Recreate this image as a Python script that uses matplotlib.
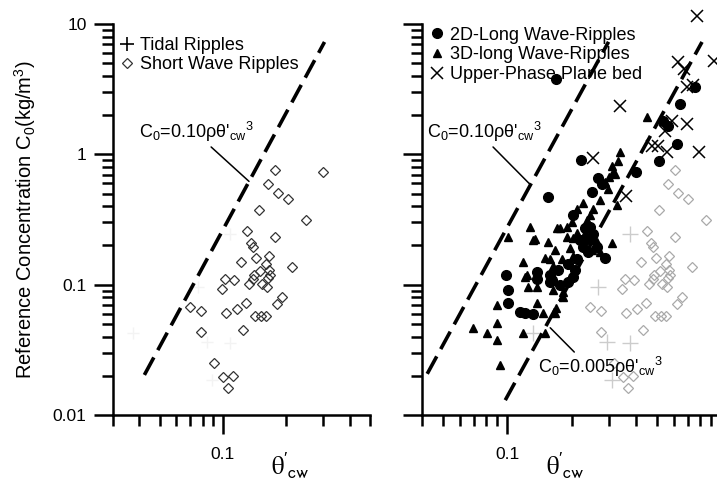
import matplotlib.pyplot as plt
from matplotlib import ticker
from matplotlib.lines import Line2D

plt.rcParams['font.family'] = ['Liberation Sans', 'DejaVu Sans']
plt.rcParams['mathtext.default'] = 'regular'

# ---- left panel: ripple data ----
tidal_theta = [0.108, 0.0761, 0.0374, 0.0840, 0.108, 0.0887]
tidal_c = [0.243, 0.0966, 0.0427, 0.0365, 0.0358, 0.0186]

short_theta = [0.176, 0.298, 0.163, 0.182, 0.203, 0.148, 0.247, 0.130, 0.176, 0.136,
               0.139, 0.165, 0.143, 0.122, 0.160, 0.212, 0.165, 0.150, 0.140, 0.167,
               0.163, 0.113, 0.102, 0.139, 0.133, 0.153, 0.162, 0.099, 0.190, 0.180,
               0.129, 0.070, 0.079, 0.116, 0.103, 0.142, 0.151, 0.160, 0.079, 0.124,
               0.091, 0.100, 0.112, 0.106]
short_c = [0.754, 0.728, 0.588, 0.501, 0.451, 0.371, 0.316, 0.260, 0.234, 0.207,
           0.196, 0.167, 0.161, 0.150, 0.143, 0.137, 0.130, 0.128, 0.119, 0.119,
           0.113, 0.109, 0.111, 0.111, 0.102, 0.102, 0.0966, 0.0931, 0.0809, 0.0715,
           0.0728, 0.0678, 0.0631, 0.0653, 0.0610, 0.0578, 0.0578, 0.0578, 0.0434, 0.0451,
           0.0251, 0.0196, 0.0200, 0.0162]

# ---- right panel: faint background points ----
ghost_short_theta = [0.610, 1.02, 0.565, 0.630, 0.701, 0.513, 0.851, 0.451, 0.610, 0.471,
                     0.481, 0.571, 0.497, 0.423, 0.553, 0.732, 0.571, 0.519, 0.486, 0.578,
                     0.565, 0.392, 0.356, 0.481, 0.461, 0.530, 0.559, 0.345, 0.658, 0.623,
                     0.446, 0.244, 0.275, 0.405, 0.360, 0.492, 0.524, 0.553, 0.275, 0.432,
                     0.316, 0.348, 0.388, 0.368]
ghost_tidal_theta = [0.376, 0.266, 0.132, 0.293, 0.376, 0.310]

# ---- right panel: long wave ripples and plane bed ----
lw2d_theta = [0.169, 0.756, 0.643, 0.536, 0.565, 0.623, 0.513, 0.222, 0.401, 0.266,
              0.278, 0.249, 0.156, 0.203, 0.244, 0.252, 0.237, 0.263, 0.287, 0.0989,
              0.101, 0.101, 0.121, 0.132, 0.138, 0.138, 0.159, 0.162, 0.173, 0.193,
              0.203, 0.193, 0.212, 0.226, 0.239, 0.231, 0.177, 0.115, 0.159, 0.208,
              0.219]
lw2d_c = [3.78, 3.27, 2.43, 1.79, 1.64, 1.19, 0.883, 0.899, 0.728, 0.654,
          0.588, 0.510, 0.467, 0.345, 0.279, 0.243, 0.226, 0.196, 0.161, 0.119,
          0.0915, 0.0728, 0.0609, 0.0598, 0.124, 0.111, 0.119, 0.109, 0.130, 0.143,
          0.115, 0.104, 0.156, 0.196, 0.179, 0.274, 0.100, 0.0620, 0.104, 0.130,
          0.222]

lw3d_theta = [0.451, 0.337, 0.330, 0.310, 0.320, 0.287, 0.296, 0.327, 0.212, 0.226,
              0.237, 0.201, 0.177, 0.191, 0.212, 0.128, 0.101, 0.132, 0.156, 0.168,
              0.151, 0.119, 0.310, 0.272, 0.121, 0.164, 0.183, 0.168, 0.138, 0.0898,
              0.0898, 0.0693, 0.0806, 0.0898, 0.118, 0.151, 0.0927, 0.169, 0.171, 0.191,
              0.203, 0.181, 0.164, 0.197, 0.203, 0.138, 0.125, 0.183, 0.147, 0.159,
              0.124, 0.244, 0.258, 0.272, 0.313, 0.300, 0.252, 0.231, 0.263, 0.249,
              0.135]
lw3d_c = [1.93, 1.04, 0.883, 0.809, 0.702, 0.609, 0.538, 0.412, 0.378, 0.427,
          0.316, 0.300, 0.274, 0.234, 0.251, 0.279, 0.234, 0.222, 0.214, 0.186,
          0.161, 0.148, 0.207, 0.179, 0.115, 0.0915, 0.0809, 0.0609, 0.0728, 0.0702,
          0.0510, 0.0467, 0.0427, 0.0378, 0.0427, 0.0427, 0.0243, 0.0665, 0.274, 0.279,
          0.230, 0.156, 0.138, 0.191, 0.165, 0.0966, 0.0966, 0.0885, 0.0609, 0.156,
          0.119, 0.345, 0.222, 0.445, 0.728, 0.665, 0.378, 0.251, 0.214, 0.186,
          0.226]

plane_theta = [0.773, 0.927, 0.630, 0.671, 0.694, 0.740, 0.337, 0.590, 0.694, 0.547,
               0.476, 0.508, 0.560, 0.789, 0.252, 0.360]
plane_c = [11.5, 5.19, 5.10, 4.51, 3.27, 3.40, 2.34, 1.79, 1.70, 1.50,
           1.15, 1.15, 1.04, 1.05, 0.931, 0.475]

# dashed reference lines (end points)
line_a_left_theta = [0.0423, 0.304]
line_a_left_c = [0.0203, 7.28]
line_a_right_theta = [0.0423, 0.298]
line_a_right_c = [0.0207, 7.3]
line_b_theta = [0.098, 0.815]
line_b_c = [0.0130, 7.28]

label_a = "C$_0$=0.10ρθ'$_{cw}$$^3$"
label_b = "C$_0$=0.005ρθ'$_{cw}$$^3$"

fig = plt.figure(figsize=(7.17, 4.83), dpi=100)
ax1 = fig.add_axes([0.1576, 0.1408, 0.3584, 0.8095])
ax2 = fig.add_axes([0.5886, 0.1408, 0.4170, 0.8095])


def style_axes(ax, xlim):
    ax.set_xscale('log')
    ax.set_yscale('log')
    ax.set_xlim(xlim)
    ax.set_ylim(0.01, 10)
    for s in ['top', 'right']:
        ax.spines[s].set_visible(False)
    for s in ['left', 'bottom']:
        ax.spines[s].set_linewidth(1.8)
    ax.tick_params(which='major', direction='out', length=14, width=1.8, labelsize=12.5)
    ax.tick_params(which='minor', direction='out', length=8, width=1.8)
    ax.tick_params(axis='x', which='major', pad=9)
    ax.tick_params(axis='y', which='major', pad=5)
    ax.xaxis.set_major_formatter(ticker.FormatStrFormatter('%g'))
    ax.yaxis.set_major_formatter(ticker.FormatStrFormatter('%g'))
    ax.xaxis.set_minor_formatter(ticker.NullFormatter())
    ax.yaxis.set_minor_formatter(ticker.NullFormatter())
    ax.set_xlabel(r"$\mathrm{\theta}'_{\mathsf{cw}}$", fontsize=18, math_fontfamily='stix')


style_axes(ax1, (0.03, 0.5))
style_axes(ax2, (0.04, 1.0))
ax2.tick_params(axis='y', labelleft=False)
ax1.xaxis.set_label_coords(0.689, -0.09)
ax2.xaxis.set_label_coords(0.478, -0.09)
ax1.set_ylabel("Reference Concentration C$_0$(kg/m$^3$)", fontsize=14.5)
ax1.yaxis.set_label_coords(-0.29, 0.5)

dash = (0, (5.5, 2.3))

# left panel
ax1.plot(tidal_theta, tidal_c, ls='none', marker='+', ms=9, mew=1, color='#f3f3f3')
ax1.plot(short_theta, short_c, ls='none', marker='D', ms=5, mew=0.9, mfc='none', mec='#333333')
ax1.plot(line_a_left_theta, line_a_left_c, ls=dash, lw=2.6, color='black')
ax1.annotate(label_a, xy=(0.133, 0.62), xytext=(0.040, 1.48), ha='left', va='center', fontsize=13,
             arrowprops=dict(arrowstyle='-', color='black', lw=1.1, shrinkA=0, shrinkB=0, relpos=(0.6, 0.0)))

h1 = [Line2D([], [], ls='none', marker='+', ms=10, mew=1.2, color='black'),
      Line2D([], [], ls='none', marker='D', ms=5, mew=0.9, mfc='none', mec='#333333')]
ax1.legend(h1, ['Tidal Ripples', 'Short Wave Ripples'], loc='upper left', bbox_to_anchor=(0.03, 0.966),
           frameon=False, fontsize=13, handlelength=0.7, handletextpad=0.35, borderpad=0,
           borderaxespad=0, labelspacing=0.1)

# right panel
ax2.plot(ghost_tidal_theta, tidal_c, ls='none', marker='+', ms=11, mew=1, color='#cccccc')
ax2.plot(ghost_short_theta, short_c, ls='none', marker='D', ms=5, mew=0.9, mfc='none', mec='#aaaaaa')
ax2.plot(line_a_right_theta, line_a_right_c, ls=dash, lw=2.6, color='black')
ax2.plot(line_b_theta, line_b_c, ls=dash, lw=2.6, color='black')
ax2.plot(lw3d_theta, lw3d_c, ls='none', marker='^', ms=6, color='black')
ax2.plot(lw2d_theta, lw2d_c, ls='none', marker='o', ms=7, color='black')
ax2.plot(plane_theta, plane_c, ls='none', marker='x', ms=8, mew=1.1, color='black', clip_on=False)
ax2.annotate(label_a, xy=(0.128, 0.588), xytext=(0.0423, 1.48), ha='left', va='center', fontsize=13,
             arrowprops=dict(arrowstyle='-', color='black', lw=1.1, shrinkA=0, shrinkB=0, relpos=(0.55, 0.0)))
ax2.annotate(label_b, xy=(0.159, 0.0467), xytext=(0.140, 0.0234), ha='left', va='center', fontsize=13,
             arrowprops=dict(arrowstyle='-', color='black', lw=1.1, shrinkA=0, shrinkB=0, relpos=(0.31, 1.0)))

h2 = [Line2D([], [], ls='none', marker='o', ms=7, color='black'),
      Line2D([], [], ls='none', marker='^', ms=5.5, color='black'),
      Line2D([], [], ls='none', marker='x', ms=8, mew=1.1, color='black')]
ax2.legend(h2, ['2D-Long Wave-Ripples', '3D-long Wave-Ripples', 'Upper-Phase Plane bed'],
           loc='upper left', bbox_to_anchor=(0.03, 0.993), frameon=False, fontsize=13,
           handlelength=0.7, handletextpad=0.35, borderpad=0, borderaxespad=0, labelspacing=0.15)

fig.savefig('out.png', dpi=100)
